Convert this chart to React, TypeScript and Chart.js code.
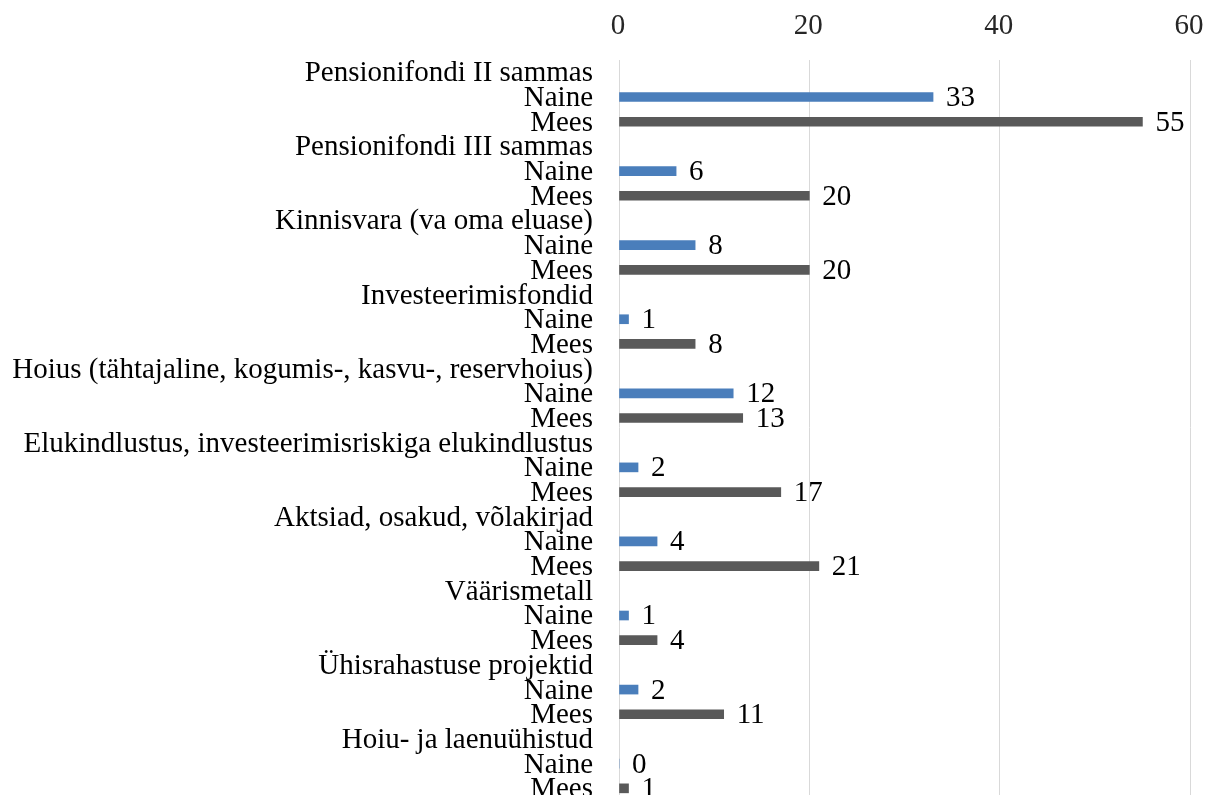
import React, { useEffect, useRef } from "react";
import { Chart, registerables } from "chart.js";

Chart.register(...registerables);

const groups: string[] = [
  "Pensionifondi II sammas",
  "Pensionifondi III sammas",
  "Kinnisvara (va oma eluase)",
  "Investeerimisfondid",
  "Hoius (tähtajaline, kogumis-, kasvu-, reservhoius)",
  "Elukindlustus, investeerimisriskiga elukindlustus",
  "Aktsiad, osakud, võlakirjad",
  "Väärismetall",
  "Ühisrahastuse projektid",
  "Hoiu- ja laenuühistud",
];
const seriesNames: string[] = ["Naine", "Mees"];
const naine: number[] = [33, 6, 8, 1, 12, 2, 4, 1, 2, 0];
const mees: number[] = [55, 20, 20, 8, 13, 17, 21, 4, 11, 1];
const xTicks: number[] = [0, 20, 40, 60];

const BLUE = "#4A7EBB";
const GRAY = "#595959";
const FONT = "29px 'Liberation Serif', 'Times New Roman', serif";
const STRETCH = 1.05;
const Y_MIN = -0.5;
const Y_MAX = 29.27;

const rows: string[] = groups.flatMap((g) => [g, seriesNames[0], seriesNames[1]]);
const naineData = groups.map((_, k) => ({ x: naine[k], y: k * 3 + 1 }));
const meesData = groups.map((_, k) => ({ x: mees[k], y: k * 3 + 2 }));

function drawText(ctx: CanvasRenderingContext2D, text: string, x: number, y: number, align: CanvasTextAlign) {
  ctx.save();
  ctx.translate(x, y);
  ctx.scale(1, STRETCH);
  ctx.textAlign = align;
  ctx.textBaseline = "middle";
  ctx.fillText(text, 0, 0);
  ctx.restore();
}

const textPlugin = {
  id: "textPlugin",
  afterDraw(chart: any) {
    const ctx: CanvasRenderingContext2D = chart.ctx;
    const xs = chart.scales.x;
    const ys = chart.scales.y;
    ctx.save();
    ctx.font = FONT;
    ctx.fillStyle = "#000000";
    rows.forEach((label, i) => {
      drawText(ctx, label, 593, ys.getPixelForValue(i) + 1, "right");
    });
    ctx.fillStyle = "#262626";
    xTicks.forEach((v) => {
      drawText(ctx, String(v), xs.getPixelForValue(v) - 1, 26, "center");
    });
    ctx.fillStyle = "#000000";
    chart.data.datasets.forEach((ds: any, di: number) => {
      const meta = chart.getDatasetMeta(di);
      meta.data.forEach((bar: any, i: number) => {
        const v = ds.data[i].x;
        drawText(ctx, String(v), bar.x + 13, bar.y + 1, "left");
      });
    });
    ctx.restore();
  },
};

export default function App() {
  const ref = useRef<HTMLCanvasElement>(null);
  useEffect(() => {
    if (!ref.current) return;
    const chart = new Chart(ref.current, {
      type: "bar",
      data: {
        datasets: [
          { label: seriesNames[0], data: naineData as any, backgroundColor: BLUE, barThickness: 9, grouped: false } as any,
          { label: seriesNames[1], data: meesData as any, backgroundColor: GRAY, barThickness: 9, grouped: false } as any,
        ],
      },
      options: {
        indexAxis: "y",
        animation: false,
        responsive: true,
        maintainAspectRatio: false,
        layout: { padding: { left: 0, right: 19, top: 0, bottom: 0 } },
        plugins: { legend: { display: false }, tooltip: { enabled: false } },
        scales: {
          x: {
            type: "linear",
            position: "top",
            min: 0,
            max: 60,
            ticks: { stepSize: 20, display: false },
            grid: { color: "#d9d9d9", drawTicks: false, lineWidth: 1 },
            border: { display: false },
            afterFit: (s: any) => {
              s.height = 60;
            },
          },
          y: {
            type: "linear",
            reverse: true,
            offset: false,
            bounds: "data",
            grace: 0,
            min: Y_MIN,
            max: Y_MAX,
            ticks: { display: false },
            grid: { display: false, offset: false },
            border: { display: false },
            afterBuildTicks: (s: any) => {
              s.min = Y_MIN;
              s.max = Y_MAX;
            },
            afterFit: (s: any) => {
              s.width = 619;
            },
          } as any,
        },
      },
      plugins: [textPlugin],
    });
    return () => chart.destroy();
  }, []);
  return (
    <div style={{ position: "absolute", left: 0, top: 0, width: 1209, height: 795 }}>
      <canvas ref={ref} />
    </div>
  );
}
